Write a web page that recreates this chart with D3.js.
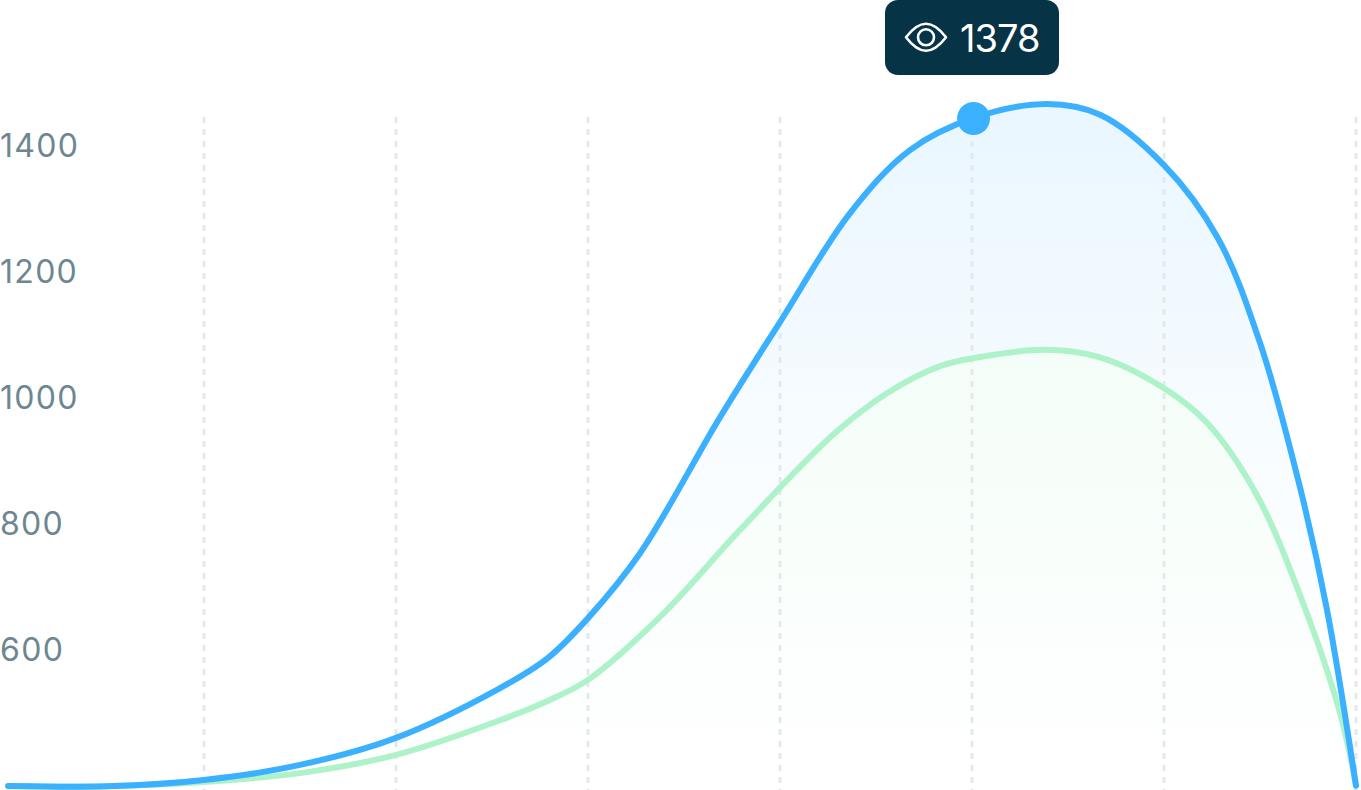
<!DOCTYPE html>
<html><head><meta charset="utf-8">
<style>html,body{margin:0;padding:0;background:#fff;overflow:hidden}svg{display:block}</style>
<script src="https://cdn.jsdelivr.net/npm/d3@7/dist/d3.min.js"></script></head>
<body><svg id="c" width="1361" height="790"></svg>
<script>
const yTicks=[600,800,1000,1200,1400];
const xTicks=[1,2,3,4,5,6,7];
const blueX=[-0.02,0.5,1,1.5,2,2.542,2.792,3,3.271,3.688,4,4.365,4.677,5.01,5.391,5.667,6,6.281,6.5,6.708,6.849,7];
const blueV=[382.5,382,392,416,459,538,586,649,752,968,1119,1292,1392,1443,1465,1448,1368,1252,1086,857,662,383];
const greenX=[-0.02,0.5,1,1.5,2,2.542,2.792,3,3.375,3.792,4.276,4.557,4.833,5.05,5.375,5.667,6,6.224,6.484,6.724,6.917,7];
const greenV=[382.5,382.5,389,403,432,487,518,551,651,789,940,1006,1049,1064,1075,1063,1014,959,844,673,498,383];
const markerX=5.008, markerV=1442, tooltipValue="1378";

const svg=d3.select("#c");
const x=d3.scaleLinear().domain([0,7]).range([12,1356]);
const y=d3.scaleLinear().domain([600,1400]).range([649,145]);
const defs=svg.append("defs");
const g1=defs.append("linearGradient").attr("id","gb").attr("x1",0).attr("x2",0).attr("y1",0).attr("y2",1);
g1.append("stop").attr("offset",0).attr("stop-color","#3ab0ff").attr("stop-opacity",.11);
g1.append("stop").attr("offset",.6).attr("stop-color","#3ab0ff").attr("stop-opacity",.025);
g1.append("stop").attr("offset",1).attr("stop-color","#3ab0ff").attr("stop-opacity",0);
const g2=defs.append("linearGradient").attr("id","gg").attr("x1",0).attr("x2",0).attr("y1",0).attr("y2",1);
g2.append("stop").attr("offset",0).attr("stop-color","#aef2c9").attr("stop-opacity",.14);
g2.append("stop").attr("offset",1).attr("stop-color","#aef2c9").attr("stop-opacity",0);

const blue=blueX.map((d,i)=>[d,blueV[i]]), green=greenX.map((d,i)=>[d,greenV[i]]);
const curve=d3.curveCatmullRom.alpha(0.5);
const area=d3.area().x(d=>x(d[0])).y0(y(383)).y1(d=>y(d[1])).curve(curve);
const line=d3.line().x(d=>x(d[0])).y(d=>y(d[1])).curve(curve);

svg.append("path").attr("d",area(blue)).attr("fill","url(#gb)");
svg.append("path").attr("d",area(green)).attr("fill","#fff");
svg.append("path").attr("d",area(green)).attr("fill","url(#gg)");

svg.selectAll("line.g").data(xTicks).join("line").attr("class","g")
 .attr("x1",x).attr("x2",x).attr("y1",117).attr("y2",790)
 .attr("stroke","#e3e9ec").attr("stroke-width",3).attr("stroke-dasharray","6 6");

svg.append("path").attr("d",line(green)).attr("fill","none").attr("stroke","#aef2c9").attr("stroke-width",6).attr("stroke-linecap","round");
svg.append("path").attr("d",line(blue)).attr("fill","none").attr("stroke","#3ab0ff").attr("stroke-width",6).attr("stroke-linecap","round");
svg.append("circle").attr("cx",x(markerX)).attr("cy",y(markerV)).attr("r",16.5).attr("fill","#3ab0ff");

svg.selectAll("text.t").data(yTicks).join("text").attr("class","t").text(d=>d)
 .attr("x",0).attr("y",y).attr("dy","0.36em")
 .attr("font-family","Inter,sans-serif").attr("font-size",32).attr("letter-spacing",1.3).attr("font-weight",400).attr("fill","#6c8791");

const tip=svg.append("g");
tip.append("rect").attr("x",885).attr("y",0).attr("width",174).attr("height",75).attr("rx",13).attr("fill","#063346");
tip.append("text").text(tooltipValue).attr("x",960).attr("y",52).attr("font-family","Inter,sans-serif").attr("font-size",38).attr("letter-spacing",-1).attr("fill","#fff");
const eye=tip.append("g").attr("transform","translate(926,37.3)").attr("fill","none").attr("stroke","#fff").attr("stroke-width",2.6);
eye.append("path").attr("d","M-20,0 C-12,-10.5 -6,-13.5 0,-13.5 C6,-13.5 12,-10.5 20,0 C12,10.5 6,13.5 0,13.5 C-6,13.5 -12,10.5 -20,0Z").attr("stroke-linejoin","round");
eye.append("circle").attr("r",8);
</script></body></html>
